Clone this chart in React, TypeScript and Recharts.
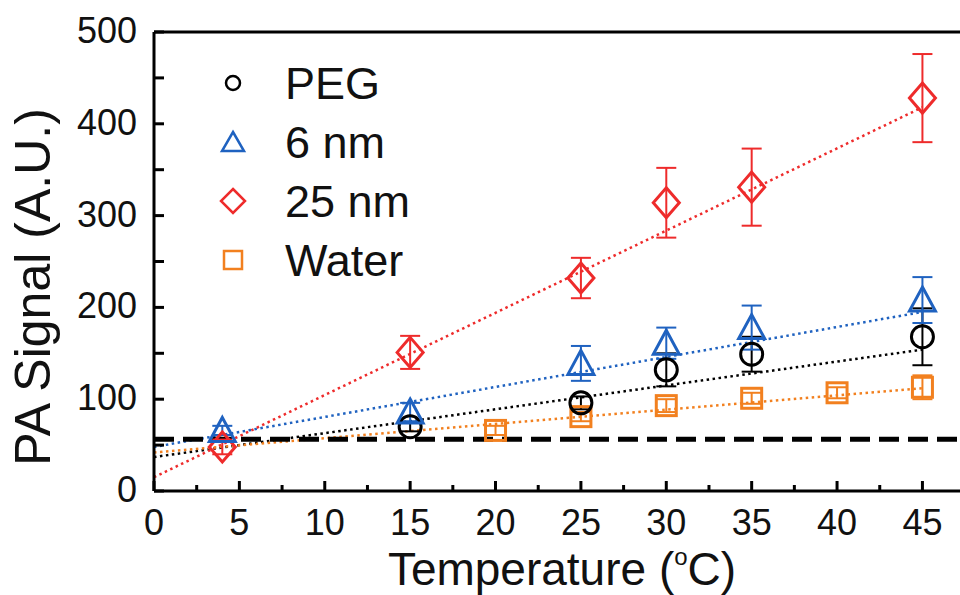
import { ComposedChart, ErrorBar, Label, Legend, Line, ReferenceLine, Scatter, XAxis, YAxis } from "recharts";

const pegTemp = [15, 25, 30, 35, 45];
const pegSignal = [70, 96, 132, 149, 168];
const pegError = [5, 7, 18, 19, 31];

const nm6Temp = [4, 15, 25, 30, 35, 45];
const nm6Signal = [66, 86, 139, 161, 178, 208];
const nm6Error = [5, 10, 19, 17, 24, 25];

const nm25Temp = [4, 15, 25, 30, 35, 45];
const nm25Signal = [48, 151, 232, 314, 331, 428];
const nm25Error = [8, 18, 22, 38, 42, 48];

const waterTemp = [20, 25, 30, 35, 40, 45];
const waterSignal = [66, 81, 93, 101, 107, 113];
const waterError = [5, 5, 7, 6, 6, 13];

// linear fits (value at each end)
const fitTemp = [0, 45];
const pegFit = [37, 154];
const nm6Fit = [48, 195];
const nm25Fit = [15, 418];
const waterFit = [42, 112];

const controlLevel = 56.5;

const xTicks = [0, 2.5, 5, 7.5, 10, 12.5, 15, 17.5, 20, 22.5, 25, 27.5, 30, 32.5, 35, 37.5, 40, 42.5, 45];
const yTicks = [0, 50, 100, 150, 200, 250, 300, 350, 400, 450, 500];

const legendNames = ['PEG', '6 nm', '25 nm', 'Water'];

const BLACK = '#000';
const BLUE = '#1f62c0';
const RED = '#ee2b2b';
const ORANGE = '#f2801f';
const FONT = '"Liberation Sans", Arial, sans-serif';

const toPoints = (xs: number[], ys: number[], errs?: number[]) =>
    xs.map((x, i) => ({ x, y: ys[i], err: errs ? errs[i] : 0 }));

const circleShape = (p: any) => <circle cx={p.cx} cy={p.cy} r={11} fill="none" stroke={BLACK} strokeWidth={3} />;
const triangleShape = (p: any) => (
    <polygon points={`${p.cx},${p.cy - 13} ${p.cx + 13},${p.cy + 11} ${p.cx - 13},${p.cy + 11}`} fill="none" stroke={BLUE} strokeWidth={3} />
);
const diamondShape = (p: any) => (
    <polygon points={`${p.cx},${p.cy - 15} ${p.cx + 13},${p.cy} ${p.cx},${p.cy + 15} ${p.cx - 13},${p.cy}`} fill="none" stroke={RED} strokeWidth={3} />
);
const squareShape = (p: any) => <rect x={p.cx - 10} y={p.cy - 10} width={20} height={20} fill="none" stroke={ORANGE} strokeWidth={3} />;

const XTick = (props: any) => {
    const { x, y, payload } = props;
    const major = payload.value % 5 === 0;
    return (
        <g>
            <line x1={x} x2={x} y1={y} y2={y - (major ? 10 : 6)} stroke={BLACK} strokeWidth={3} />
            {major && (
                <text x={x} y={y + 44} textAnchor="middle" fontSize={36} fontFamily={FONT} fill="#111">
                    {payload.value}
                </text>
            )}
        </g>
    );
};

const YTick = (props: any) => {
    const { x, y, payload } = props;
    const major = payload.value % 100 === 0;
    return (
        <g>
            <line x1={x} x2={x + 10} y1={y} y2={y} stroke={BLACK} strokeWidth={3} />
            {major && (
                <text x={x - 17} y={y + 11} textAnchor="end" fontSize={36} fontFamily={FONT} fill="#111">
                    {payload.value}
                </text>
            )}
        </g>
    );
};

const legendMarker = (i: number, cx: number, cy: number) => {
    if (i === 0) return <circle cx={cx} cy={cy} r={7} fill="none" stroke={BLACK} strokeWidth={2.5} />;
    if (i === 1) return <polygon points={`${cx},${cy - 10} ${cx + 11},${cy + 9} ${cx - 11},${cy + 9}`} fill="none" stroke={BLUE} strokeWidth={2.5} />;
    if (i === 2) return <polygon points={`${cx},${cy - 12} ${cx + 12},${cy} ${cx},${cy + 12} ${cx - 12},${cy}`} fill="none" stroke={RED} strokeWidth={2.5} />;
    return <rect x={cx - 9} y={cy - 9} width={18} height={18} fill="none" stroke={ORANGE} strokeWidth={2.5} />;
};

const LegendBox = () => (
    <svg width={260} height={240}>
        {legendNames.map((name, i) => {
            const cy = 33 + i * 59;
            return (
                <g key={name}>
                    {legendMarker(i, 33, cy)}
                    <text x={85} y={cy + 16} fontSize={45} fontFamily={FONT} fill="#111">{name}</text>
                </g>
            );
        })}
    </svg>
);

export default function App() {
    return (
        <div style={{ position: 'absolute', left: 0, top: 0, width: 960, height: 595, background: '#fff' }}>
            <ComposedChart width={960} height={595} margin={{ top: 32, right: 0, bottom: 0, left: 0 }}>
                <XAxis
                    dataKey="x"
                    type="number"
                    domain={[0, 47.2]}
                    ticks={xTicks}
                    interval={0}
                    allowDataOverflow
                    height={104}
                    tickSize={0}
                    tickMargin={0}
                    tickLine={false}
                    tick={<XTick />}
                    axisLine={{ stroke: BLACK, strokeWidth: 3 }}
                >
                    <Label
                        content={() => (
                            <text x={562} y={585} textAnchor="middle" fontSize={46} fontFamily={FONT} fill="#111">
                                Temperature (<tspan fontSize={24} dy={-20}>o</tspan><tspan dy={20}>C)</tspan>
                            </text>
                        )}
                    />
                </XAxis>
                <YAxis
                    dataKey="y"
                    type="number"
                    domain={[0, 500]}
                    ticks={yTicks}
                    interval={0}
                    allowDataOverflow
                    width={154}
                    tickSize={0}
                    tickMargin={0}
                    tickLine={false}
                    tick={<YTick />}
                    axisLine={{ stroke: BLACK, strokeWidth: 3 }}
                >
                    <Label
                        content={() => (
                            <text transform="translate(50,287) rotate(-90)" textAnchor="middle" fontSize={50} fontFamily={FONT} fill="#111">
                                PA Signal (A.U.)
                            </text>
                        )}
                    />
                </YAxis>
                <ReferenceLine y={500} stroke={BLACK} strokeWidth={3} />
                <Line data={toPoints(fitTemp, pegFit)} dataKey="y" stroke={BLACK} strokeWidth={2.5} strokeDasharray="2.5 3.5" dot={false} isAnimationActive={false} />
                <Line data={toPoints(fitTemp, nm6Fit)} dataKey="y" stroke={BLUE} strokeWidth={2.5} strokeDasharray="2.5 3.5" dot={false} isAnimationActive={false} />
                <Line data={toPoints(fitTemp, nm25Fit)} dataKey="y" stroke={RED} strokeWidth={2.5} strokeDasharray="2.5 3.5" dot={false} isAnimationActive={false} />
                <Line data={toPoints(fitTemp, waterFit)} dataKey="y" stroke={ORANGE} strokeWidth={2.5} strokeDasharray="2.5 3.5" dot={false} isAnimationActive={false} />
                <ReferenceLine y={controlLevel} stroke={BLACK} strokeWidth={5} strokeDasharray="20 9" />
                <Scatter name="Water" data={toPoints(waterTemp, waterSignal, waterError)} shape={squareShape} isAnimationActive={false}>
                    <ErrorBar dataKey="err" direction="y" width={10} stroke={ORANGE} strokeWidth={2} />
                </Scatter>
                <Scatter name="PEG" data={toPoints(pegTemp, pegSignal, pegError)} shape={circleShape} isAnimationActive={false}>
                    <ErrorBar dataKey="err" direction="y" width={10} stroke={BLACK} strokeWidth={2} />
                </Scatter>
                <Scatter name="25 nm" data={toPoints(nm25Temp, nm25Signal, nm25Error)} shape={diamondShape} isAnimationActive={false}>
                    <ErrorBar dataKey="err" direction="y" width={10} stroke={RED} strokeWidth={2} />
                </Scatter>
                <Scatter name="6 nm" data={toPoints(nm6Temp, nm6Signal, nm6Error)} shape={triangleShape} isAnimationActive={false}>
                    <ErrorBar dataKey="err" direction="y" width={10} stroke={BLUE} strokeWidth={2} />
                </Scatter>
                <Legend
                    layout="horizontal"
                    verticalAlign="middle"
                    align="center"
                    content={<LegendBox />}
                    wrapperStyle={{ position: 'absolute', left: 200, top: 50, width: 260, height: 240 }}
                />
            </ComposedChart>
        </div>
    );
}
